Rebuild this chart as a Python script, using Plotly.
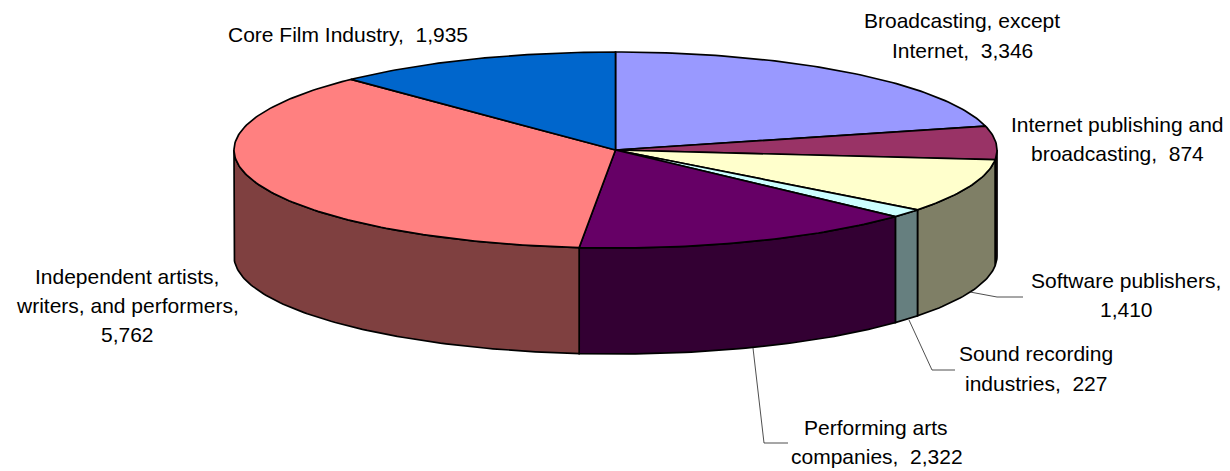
import numpy as np
import plotly.graph_objects as go

categories = ["Broadcasting, except Internet", "Internet publishing and broadcasting",
              "Software publishers", "Sound recording industries", "Performing arts companies",
              "Independent artists, writers, and performers", "Core Film Industry"]
values = [3346, 874, 1410, 227, 2322, 5762, 1935]
top_colors = ["#9999FF", "#993366", "#FFFFCC", "#CCFFFF", "#660066", "#FF8080", "#0066CC"]

CX, CY, RX, RY, DEPTH = 615.5, 150, 381.5, 98, 106
NB = "\u00a0"
labels = [
    (962, 20, "Broadcasting, except"), (962, 50, f"Internet,{NB}{NB}3,346"),
    (1117, 124, "Internet publishing and"), (1117, 153, f"broadcasting,{NB}{NB}874"),
    (1126, 280, "Software publishers,"), (1126, 309, "1,410"),
    (1036, 353, "Sound recording"), (1036, 383, f"industries,{NB}{NB}227"),
    (876, 427, "Performing arts"), (877, 456, f"companies,{NB}{NB}2,322"),
    (127, 276, "Independent artists,"), (127, 305, "writers, and performers,"), (127, 334, "5,762"),
    (348, 34, f"Core Film Industry,{NB}{NB}1,935"),
]
leaders = [
    ([970, 997, 1023], [292, 297, 297]),
    ([909, 932, 955], [320, 370, 370]),
    ([753, 764, 788], [348, 443, 443]),
]


def arc(a0, a1, dy=0.0):
    n = max(2, int(abs(a1 - a0) * 60) + 2)
    t = np.linspace(a0, a1, n)
    return CX + RX * np.sin(t), CY - RY * np.cos(t) + dy


def darker(hex_color):
    r, g, b = (int(hex_color[i:i + 2], 16) for i in (1, 3, 5))
    return f"rgb({r // 2},{g // 2},{b // 2})"


fig = go.Figure()
fractions = np.cumsum([0] + values) / sum(values) * 2 * np.pi
line = dict(color="black", width=1.7)

# side walls, only for the front half of the disc
for i, col in enumerate(top_colors):
    a0, a1 = max(fractions[i], np.pi / 2), min(fractions[i + 1], 3 * np.pi / 2)
    if a1 <= a0:
        continue
    x1, y1 = arc(a0, a1)
    x2, y2 = arc(a1, a0, DEPTH)
    fig.add_trace(go.Scatter(x=np.r_[x1, x2, x1[0]], y=np.r_[y1, y2, y1[0]], mode="lines",
                             fill="toself", fillcolor=darker(col), line=line, hoverinfo="skip"))

# top faces
for i, col in enumerate(top_colors):
    x, y = arc(fractions[i], fractions[i + 1])
    fig.add_trace(go.Scatter(x=np.r_[CX, x, CX], y=np.r_[CY, y, CY], mode="lines",
                             fill="toself", fillcolor=col, line=line, hoverinfo="skip",
                             name=categories[i]))

for lx, ly in leaders:
    fig.add_trace(go.Scatter(x=lx, y=ly, mode="lines", line=dict(color="#222222", width=0.8),
                             hoverinfo="skip"))

for x, y, text in labels:
    fig.add_annotation(x=x, y=y, text=text, showarrow=False, xanchor="center", yanchor="middle",
                       font=dict(family="Liberation Sans", size=21, color="black"))

fig.update_layout(width=1230, height=471, margin=dict(l=0, r=0, t=0, b=0), showlegend=False,
                  paper_bgcolor="white", plot_bgcolor="white",
                  xaxis=dict(range=[0, 1230], visible=False, fixedrange=True),
                  yaxis=dict(range=[471, 0], visible=False, fixedrange=True))
fig.write_html("out.html", config=dict(displayModeBar=False),
               post_script="document.body.style.margin='0';document.body.style.overflow='hidden';")
